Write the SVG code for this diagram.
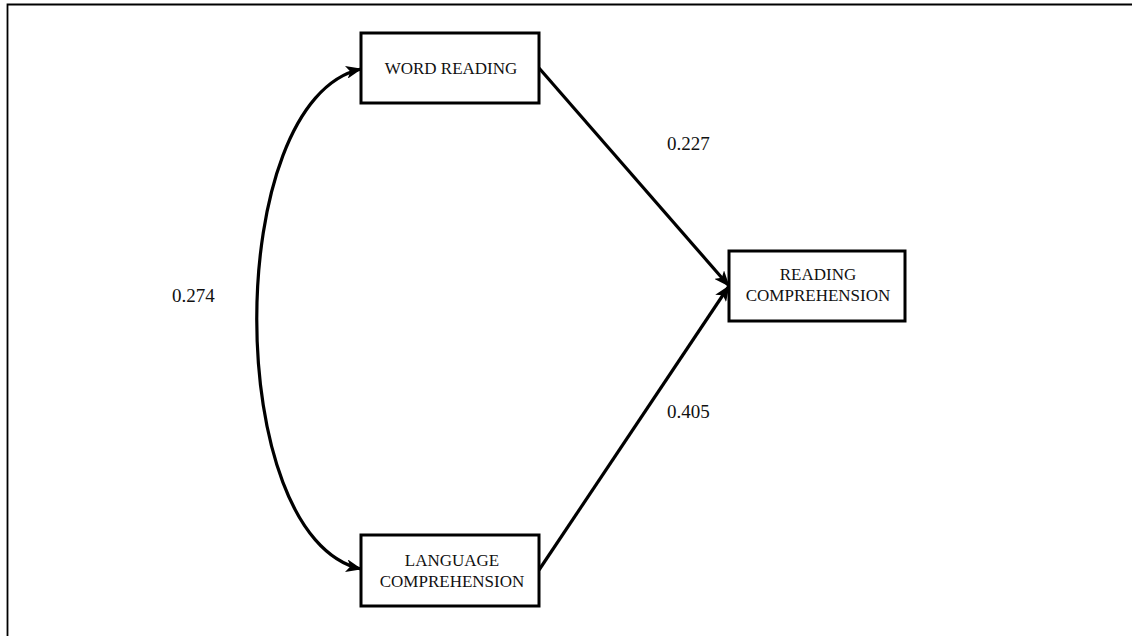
<svg xmlns="http://www.w3.org/2000/svg" width="1132" height="636" viewBox="0 0 1132 636">
<style>
.box{fill:#fff;stroke:#000;stroke-width:3}
.lbl{font-family:"Liberation Serif","Times New Roman",serif;font-size:17px;fill:#111;text-anchor:middle}
.num{font-family:"Liberation Serif","Times New Roman",serif;font-size:19px;fill:#111}
.edge{fill:none;stroke:#000;stroke-width:3.2}
</style>
<defs>
<marker id="ah" markerUnits="userSpaceOnUse" markerWidth="16" markerHeight="13" refX="15" refY="6.5" orient="auto-start-reverse">
<path d="M0,0 L16,6.5 L0,13 L4,6.5 Z" fill="#000"/>
</marker>
</defs>
<rect width="1132" height="636" fill="#fff"/>
<path d="M7.5,636 V4.5 H1132" fill="none" stroke="#000" stroke-width="1.8"/>
<g id="connectors">
<path class="edge" d="M539,68 L729,286" marker-end="url(#ah)"/>
<path class="edge" d="M539,570 L729,286" marker-end="url(#ah)"/>
<path class="edge" d="M361,569 C222,538 222,100 361,69" marker-start="url(#ah)" marker-end="url(#ah)"/>
</g>
<g id="word-reading">
<rect class="box" x="361" y="33" width="178" height="70"/>
<text class="lbl" x="451" y="74">WORD READING</text>
</g>
<g id="language-comprehension">
<rect class="box" x="361" y="535" width="178" height="71"/>
<text class="lbl" x="452" y="566">LANGUAGE</text>
<text class="lbl" x="452" y="587">COMPREHENSION</text>
</g>
<g id="reading-comprehension">
<rect class="box" x="729" y="251" width="176" height="70"/>
<text class="lbl" x="818" y="280">READING</text>
<text class="lbl" x="818" y="301">COMPREHENSION</text>
</g>
<g id="labels">
<text class="num" x="172" y="302">0.274</text>
<text class="num" x="667" y="150">0.227</text>
<text class="num" x="667" y="418">0.405</text>
</g>
</svg>
